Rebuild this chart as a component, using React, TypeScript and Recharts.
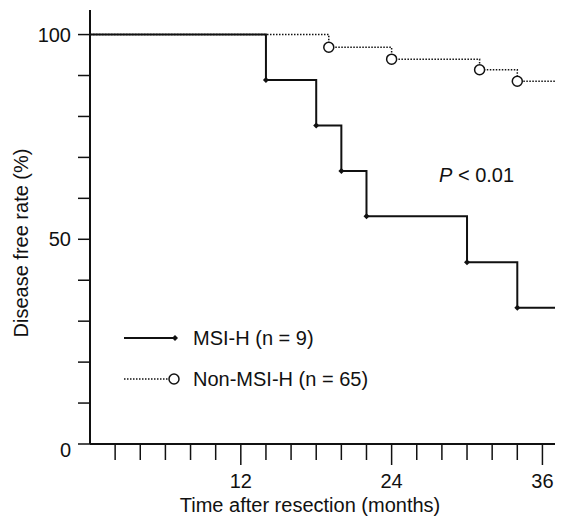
import { LineChart, Line, XAxis, YAxis, Customized } from 'recharts';

// Kaplan–Meier steps
const msiMonths = [0, 14, 18, 20, 22, 30, 34, 37];
const msiRate = [100, 88.9, 77.8, 66.7, 55.6, 44.4, 33.3, 33.3];
const nonMonths = [0, 19, 24, 31, 34, 37];
const nonRate = [100, 96.9, 94.0, 91.4, 88.6, 88.6];

const xTicks = [2, 4, 6, 8, 10, 12, 14, 16, 18, 20, 22, 24, 26, 28, 30, 32, 34, 36];
const yTicks = [0, 10, 20, 30, 40, 50, 60, 70, 80, 90, 100];
const xLabels = [12, 24, 36];
const yLabels = [0, 50, 100];

const FONT = '"Liberation Sans", Arial, sans-serif';
const INK = '#111';

const msiData = msiMonths.map((t, i) => ({ t, v: msiRate[i] }));
const nonData = nonMonths.map((t, i) => ({ t, v: nonRate[i] }));

function XTick(props: any) {
  const { x, y, payload } = props;
  const major = xLabels.includes(payload.value);
  return (
    <g>
      <line x1={x} x2={x} y1={y} y2={y + (major ? 21 : 16)} stroke={INK} strokeWidth={1.5} />
      {major && (
        <text x={x} y={y + 44} textAnchor="middle" fontSize={20} fontFamily={FONT} fill={INK}>
          {payload.value}
        </text>
      )}
    </g>
  );
}

function YTick(props: any) {
  const { x, y, payload } = props;
  const v = payload.value;
  return (
    <g>
      <line x1={x - 12} x2={x} y1={y} y2={y} stroke={INK} strokeWidth={1.5} />
      {yLabels.includes(v) && (
        <text x={x - 19} y={y + (v === 0 ? 13 : 7)} textAnchor="end" fontSize={20} fontFamily={FONT} fill={INK}>
          {v}
        </text>
      )}
    </g>
  );
}

function DiamondDot(props: any) {
  const { cx, cy, index } = props;
  if (index === 0 || index === msiData.length - 1) return <g key={`d${index}`} />;
  const s = 3;
  return (
    <polygon
      key={`d${index}`}
      points={`${cx},${cy - s} ${cx + s},${cy} ${cx},${cy + s} ${cx - s},${cy}`}
      fill={INK}
    />
  );
}

function CircleDot(props: any) {
  const { cx, cy, index } = props;
  if (index === 0 || index === nonData.length - 1) return <g key={`c${index}`} />;
  return <circle key={`c${index}`} cx={cx} cy={cy} r={5} fill="#fff" stroke={INK} strokeWidth={1.5} />;
}

function Annotations() {
  return (
    <g fontFamily={FONT} fill={INK} fontSize={20}>
      <text x={310} y={512} textAnchor="middle">Time after resection (months)</text>
      <text x={28} y={243} textAnchor="middle" transform="rotate(-90 28 243)">Disease free rate (%)</text>
      <text x={439} y={182}>
        <tspan fontStyle="italic">P</tspan> &lt; 0.01
      </text>
      {/* legend */}
      <line x1={124} x2={175} y1={338} y2={338} stroke={INK} strokeWidth={2} />
      <polygon points="175,335 178,338 175,341 172,338" fill={INK} />
      <text x={193} y={345}>MSI-H (n = 9)</text>
      <line x1={124} x2={169} y1={379} y2={379} stroke={INK} strokeWidth={1.5} strokeDasharray="1.5 1.5" />
      <circle cx={174} cy={379} r={5} fill="#fff" stroke={INK} strokeWidth={1.5} />
      <text x={193} y={386}>Non-MSI-H (n = 65)</text>
    </g>
  );
}

export default function App() {
  return (
    <div style={{ position: 'absolute', left: 0, top: 0, background: '#fff' }}>
      <LineChart width={567} height={519} margin={{ top: 10, right: 12, bottom: 35, left: 30 }}>
        <XAxis
          type="number"
          dataKey="t"
          domain={[0, 37]}
          ticks={xTicks}
          interval={0}
          height={40}
          tickSize={0}
          tickMargin={0}
          tickLine={false}
          tick={<XTick />}
          axisLine={{ stroke: INK, strokeWidth: 2 }}
          allowDataOverflow
        />
        <YAxis
          type="number"
          dataKey="v"
          domain={[0, 106]}
          ticks={yTicks}
          interval={0}
          width={60}
          tickSize={0}
          tickMargin={0}
          tickLine={false}
          tick={<YTick />}
          axisLine={{ stroke: INK, strokeWidth: 2 }}
          allowDataOverflow
        />
        <Line
          data={nonData}
          dataKey="v"
          type="stepAfter"
          stroke={INK}
          strokeWidth={1.5}
          strokeDasharray="1.5 1.5"
          dot={<CircleDot />}
          activeDot={false}
          isAnimationActive={false}
        />
        <Line
          data={msiData}
          dataKey="v"
          type="stepAfter"
          stroke={INK}
          strokeWidth={2}
          dot={<DiamondDot />}
          activeDot={false}
          isAnimationActive={false}
        />
        <Customized component={<Annotations />} />
      </LineChart>
    </div>
  );
}
